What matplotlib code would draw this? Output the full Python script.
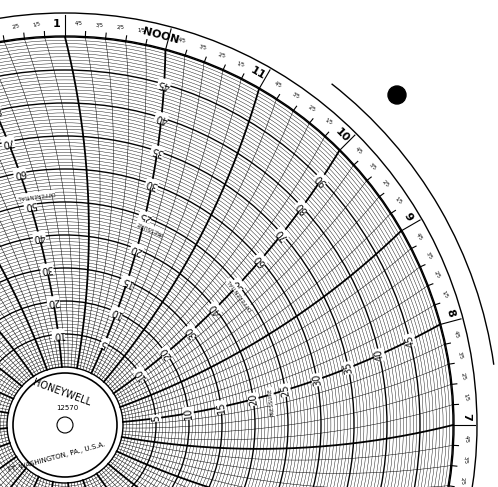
import numpy as np
import matplotlib.pyplot as plt
from matplotlib.patches import Circle, Arc

# chart geometry (data units = pixels, hub at origin)
r0, step = 58, 6.6          # radius of value 0, pixels per pressure unit
Ra = 800                    # pen arm radius of the time lines
pressure_vals = [5, 10, 15, 20, 25, 30, 35, 40, 45]
diff_vals = [10, 20, 30, 40, 50, 60, 70, 80, 90]
hour_labels = ['5', '6', '7', '8', '9', '10', '11', 'NOON', '1', '2', '3']
hour_angles = [-30, -15, 0, 15, 30, 45, 60, 75, 90, 105, 120]
R = r0 + 50 * step

fig = plt.figure(figsize=(4.98, 4.87), dpi=100)
ax = fig.add_axes([0, 0, 1, 1])
ax.set_xlim(-65, 433)
ax.set_ylim(-62, 425)
ax.set_aspect('equal')
ax.axis('off')


def arc_pt(theta, r):
    # point at radius r on the time line that ends at angle theta (deg)
    a = theta - np.degrees(np.arcsin(R / (2 * Ra)) - np.arcsin(r / (2 * Ra)))
    t = np.radians(a)
    return r * np.cos(t), r * np.sin(t), a


# concentric value circles
for v in np.arange(0, 50.5, 0.5):
    lw = 1.0 if v % 5 == 0 else 0.3
    ax.add_patch(Circle((0, 0), r0 + v * step, fill=False, lw=lw, color='k'))

# curved time lines
rr = np.linspace(r0, R, 150)
for i in range(120):
    th = i * 3.0
    x, y, _ = arc_pt(th, rr)
    lw = 1.3 if i % 5 == 0 else 0.35
    ax.plot(x, y, color='k', lw=lw)

# outer hour band
for rad in [R + 1, R + 24]:
    ax.add_patch(Circle((0, 0), rad, fill=False, lw=1.0, color='k'))
for i in range(120):
    t = np.radians(i * 3.0)
    ln = 22 if i % 5 == 0 else 6
    ax.plot([R * np.cos(t), (R + ln) * np.cos(t)], [R * np.sin(t), (R + ln) * np.sin(t)], color='k', lw=0.8)
ax.add_patch(Arc((0, 0), 2 * (R + 45), 2 * (R + 45), theta1=8, theta2=52, lw=1.0, color='k'))
for lab, a in zip(hour_labels, hour_angles):
    t = np.radians(a + 1.2)
    ax.text((R + 13) * np.cos(t), (R + 13) * np.sin(t), lab, rotation=a - 90,
            ha='center', va='center', fontsize=8, fontweight='bold')
    for k, q in enumerate(['4/5', '3/5', '2/5', '1/5']):
        tq = np.radians(a - 3.0 * (k + 1) + 1.0)
        ax.text((R + 14) * np.cos(tq), (R + 14) * np.sin(tq), q, rotation=a - 90,
                ha='center', va='center', fontsize=3.5)

# scale numbers sitting on the heavy lines
box = dict(facecolor='white', edgecolor='none', pad=0.3)
for v in pressure_vals:
    for th in [15, 75]:
        x, y, a = arc_pt(th, r0 + v * step)
        ax.text(x, y, str(v), rotation=a + 90, ha='center', va='center', fontsize=7, bbox=box)
for v in diff_vals:
    for th in [45, 105]:
        x, y, a = arc_pt(th, r0 + v / 2 * step)
        ax.text(x, y, str(v), rotation=a + 90, ha='center', va='center', fontsize=7, bbox=box)
for txt, th, r in [('PRESSURE', 13, 208), ('PRESSURE', 73, 215),
                   ('DIFFERENTIAL', 43, 218), ('DIFFERENTIAL', 103, 232)]:
    x, y, a = arc_pt(th, r)
    ax.text(x, y, txt, rotation=a + 90, ha='center', va='center', fontsize=4, bbox=box)

# hub
ax.add_patch(Circle((0, 0), 52, facecolor='white', edgecolor='k', lw=1.2, zorder=5))
ax.add_patch(Circle((0, 0), 8, facecolor='white', edgecolor='k', lw=0.8, zorder=6))
ax.text(-3, 32, 'HONEYWELL', rotation=-20, ha='center', va='center', fontsize=7, zorder=6)
ax.text(2, 17, '12570', ha='center', va='center', fontsize=5, zorder=6)
ax.text(-8, -32, 'FT. WASHINGTON, PA., U.S.A.', rotation=15, ha='center', va='center', fontsize=5, zorder=6)

# hole
ax.add_patch(Circle((332, 330), 9, color='k'))

fig.savefig('out.png', dpi=100)
